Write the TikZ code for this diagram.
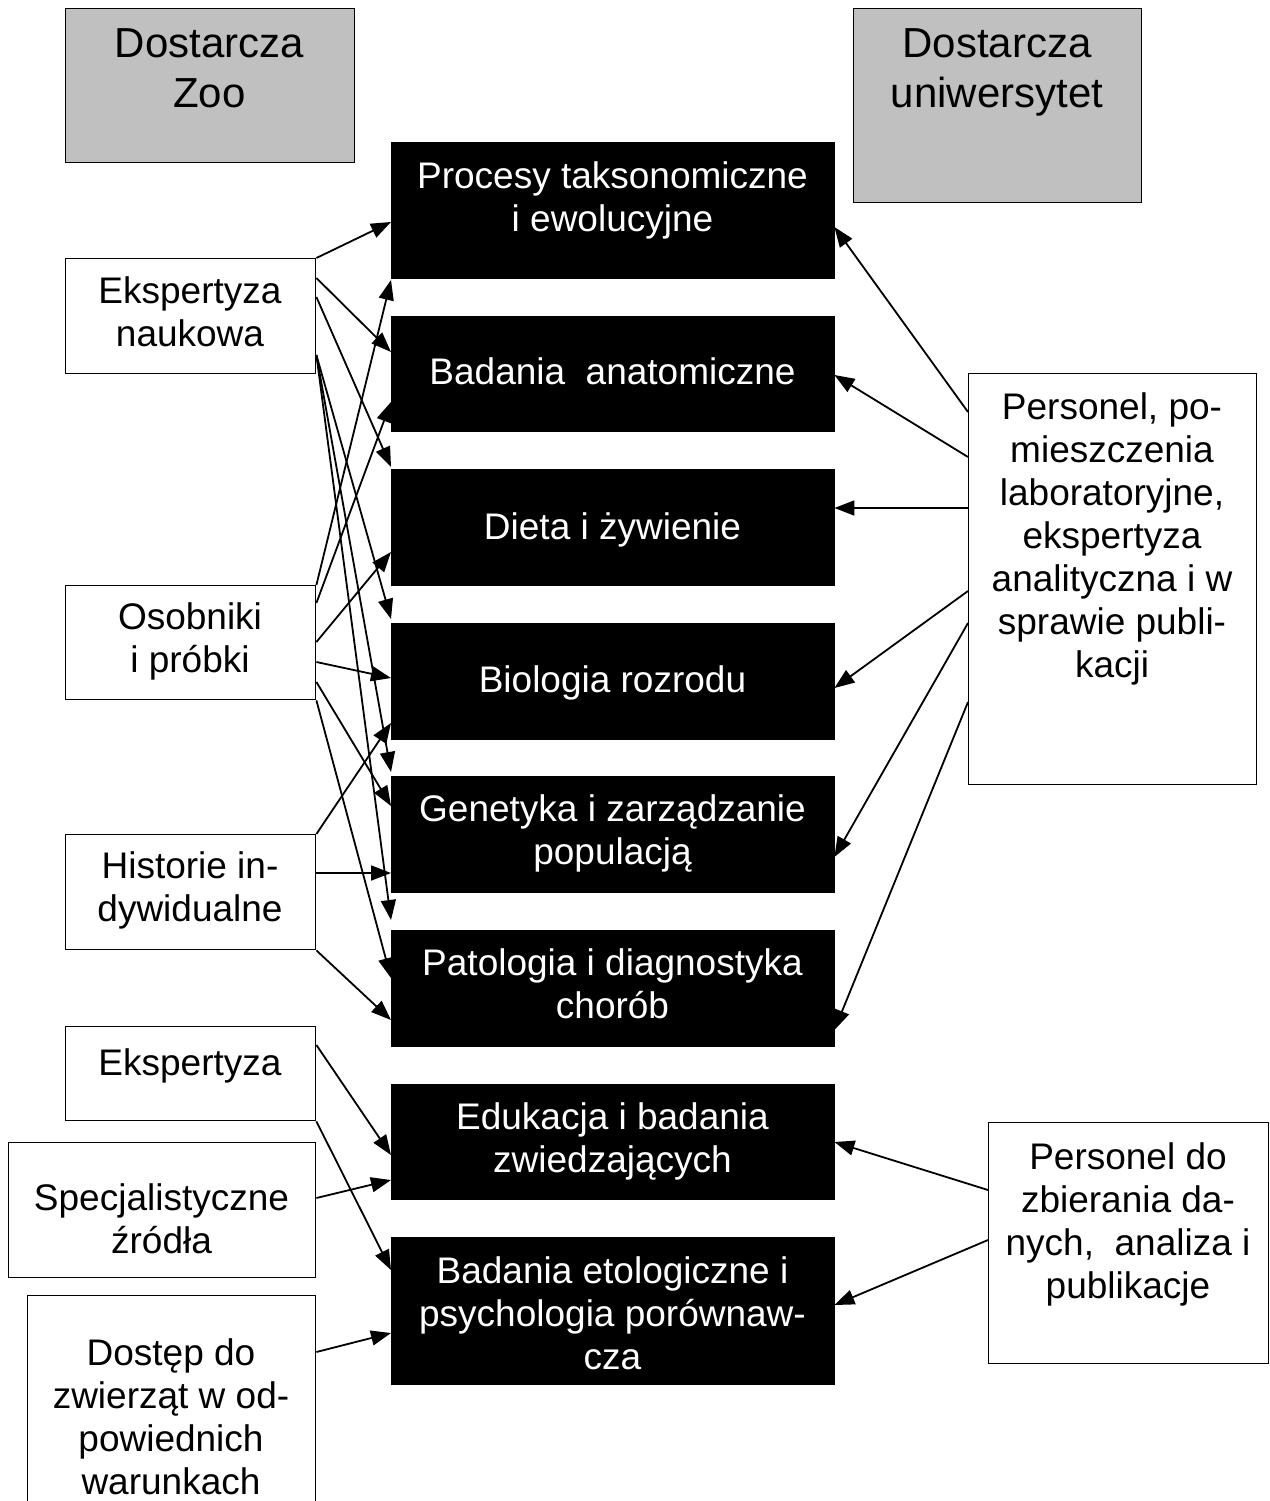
\documentclass[tikz,border=0pt]{standalone}
\usepackage{fontspec}
\setmainfont{Liberation Sans}
\usetikzlibrary{arrows.meta}
\definecolor{boxgray}{HTML}{C0C0C0}
\tikzset{
  box/.style={draw=black, line width=1.4pt, inner sep=0pt, anchor=north west, fill=white},
  gbox/.style={box, fill=boxgray},
  bbox/.style={draw=black, fill=black, inner sep=0pt, anchor=north west},
  txt/.style={align=center, inner sep=0pt, font=\fontsize{37pt}{43pt}\selectfont},
  wtxt/.style={txt, text=white},
  htxt/.style={align=center, inner sep=0pt, font=\fontsize{42pt}{50pt}\selectfont},
  arr/.style={line width=1.8pt, -{Triangle[length=20pt,width=15pt]}},
}
\begin{document}
\begin{tikzpicture}[x=1pt,y=-1pt]
\useasboundingbox[fill=white] (0,0) rectangle (1269,1501);
% header boxes
\node[gbox, minimum width=289pt, minimum height=154pt] (zoo) at (65,8) {};
\node[htxt] (zoot) at (209.5,73) {\strut Dostarcza\\\strut Zoo};
\node[gbox, minimum width=288pt, minimum height=194pt] (uni) at (853,8) {};
\node[htxt] (unit) at (997,73) {\strut Dostarcza\\\strut uniwersytet};
% black boxes
\node[bbox, minimum width=443pt, minimum height=136pt] (b1) at (391,142) {};
\node[bbox, minimum width=443pt, minimum height=115pt] (b2) at (391,316) {};
\node[bbox, minimum width=443pt, minimum height=116pt] (b3) at (391,469) {};
\node[bbox, minimum width=443pt, minimum height=116pt] (b4) at (391,623) {};
\node[bbox, minimum width=443pt, minimum height=116pt] (b5) at (391,776) {};
\node[bbox, minimum width=443pt, minimum height=116pt] (b6) at (391,930) {};
\node[bbox, minimum width=443pt, minimum height=115pt] (b7) at (391,1084) {};
\node[bbox, minimum width=443pt, minimum height=147pt] (b8) at (391,1237) {};
\node[wtxt] (b1t) at (612.5,201) {\strut Procesy taksonomiczne\\\strut i ewolucyjne};
\node[wtxt] (b2t) at (612.5,376) {\strut Badania~ anatomiczne};
\node[wtxt] (b3t) at (612.5,531) {\strut Dieta i żywienie};
\node[wtxt] (b4t) at (612.5,684) {\strut Biologia rozrodu};
\node[wtxt] (b5t) at (612.5,834) {\strut Genetyka i zarządzanie\\\strut populacją};
\node[wtxt] (b6t) at (612.5,988) {\strut Patologia i diagnostyka\\\strut chorób};
\node[wtxt] (b7t) at (612.5,1142) {\strut Edukacja i badania\\\strut zwiedzających};
\node[wtxt] (b8t) at (612.5,1318) {\strut Badania etologiczne i\\\strut psychologia porównaw-\\\strut cza};
% left boxes
\node[box, minimum width=250pt, minimum height=115pt] (L1) at (65,258) {};
\node[txt] (L1t) at (190,316.5) {\strut Ekspertyza\\\strut naukowa};
\node[box, minimum width=250pt, minimum height=114pt] (L2) at (65,585) {};
\node[txt] (L2t) at (190,642.5) {\strut Osobniki\\\strut i próbki};
\node[box, minimum width=250pt, minimum height=115pt] (L3) at (65,834) {};
\node[txt] (L3t) at (190,891.5) {\strut Historie in-\\\strut dywidualne};
\node[box, minimum width=250pt, minimum height=94pt] (L4) at (65,1026) {};
\node[txt] (L4t) at (190,1066.5) {\strut Ekspertyza};
\node[box, minimum width=307pt, minimum height=135pt] (L5) at (8,1142) {};
\node[txt] (L5t) at (161.5,1223.5) {\strut Specjalistyczne\\\strut źródła};
\node[box, minimum width=288pt, minimum height=220pt] (L6) at (27,1295) {};
\node[txt] (L6t) at (171,1421.5) {\strut Dostęp do\\\strut zwierząt w od-\\\strut powiednich\\\strut warunkach};
% right boxes
\node[box, minimum width=288pt, minimum height=411pt] (R1) at (968,373) {};
\node[txt] (R1t) at (1112,539.5) {\strut Personel, po-\\\strut mieszczenia\\\strut laboratoryjne,\\\strut ekspertyza\\\strut analityczna i w\\\strut sprawie publi-\\\strut kacji};
\node[box, minimum width=280pt, minimum height=241pt] (R2) at (988,1122) {};
\node[txt] (R2t) at (1128,1225) {\strut Personel do\\\strut zbierania da-\\\strut nych,~ analiza i\\\strut publikacje};
% left connectors
\draw[arr] (L1.north east) -- ([yshift=-80pt]b1.north west);
\draw[arr] ([yshift=-20pt]L1.north east) -- ([yshift=-36pt]b2.north west);
\draw[arr] ([yshift=-39pt]L1.north east) -- ([yshift=2pt]b3.north west);
\draw[arr] ([yshift=-97pt]L1.north east) -- ([yshift=4pt]b4.north west);
\draw[arr] ([yshift=-97pt]L1.north east) -- ([yshift=4pt]b5.north west);
\draw[arr] ([yshift=-97pt]L1.north east) -- ([yshift=10pt]b6.north west);
\draw[arr] (L2.north east) -- ([yshift=-138pt]b1.north west);
\draw[arr] ([yshift=-18pt]L2.north east) -- ([yshift=-86pt]b2.north west);
\draw[arr] ([yshift=-57pt]L2.north east) -- ([yshift=-83pt]b3.north west);
\draw[arr] ([yshift=-77pt]L2.north east) -- ([yshift=-55pt]b4.north west);
\draw[arr] ([yshift=-97pt]L2.north east) -- ([yshift=-30pt]b5.north west);
\draw[arr] (L2.south east) -- ([yshift=-48pt]b6.north west);
\draw[arr] (L3.north east) -- ([yshift=-100pt]b4.north west);
\draw[arr] ([yshift=-39pt]L3.north east) -- ([yshift=-97pt]b5.north west);
\draw[arr] (L3.south east) -- ([yshift=-90pt]b6.north west);
\draw[arr] ([yshift=-19pt]L4.north east) -- ([yshift=-71pt]b7.north west);
\draw[arr] (L4.south east) -- ([yshift=-33pt]b8.north west);
\draw[arr] ([yshift=-56pt]L5.north east) -- ([yshift=-96pt]b7.north west);
\draw[arr] ([yshift=-57pt]L6.north east) -- ([yshift=-96pt]b8.north west);
% right connectors
\draw[arr] ([yshift=-39pt]R1.north west) -- ([yshift=-85pt]b1.north east);
\draw[arr] ([yshift=-84pt]R1.north west) -- ([yshift=-59pt]b2.north east);
\draw[arr] ([yshift=-135pt]R1.north west) -- ([yshift=-39pt]b3.north east);
\draw[arr] ([yshift=-218pt]R1.north west) -- ([yshift=-65pt]b4.north east);
\draw[arr] ([yshift=-250pt]R1.north west) -- ([yshift=-81pt]b5.north east);
\draw[arr] ([yshift=-329pt]R1.north west) -- ([yshift=-100pt]b6.north east);
\draw[arr] ([yshift=-68pt]R2.north west) -- ([yshift=-58pt]b7.north east);
\draw[arr] ([yshift=-118pt]R2.north west) -- ([yshift=-68pt]b8.north east);
\end{tikzpicture}
\end{document}
